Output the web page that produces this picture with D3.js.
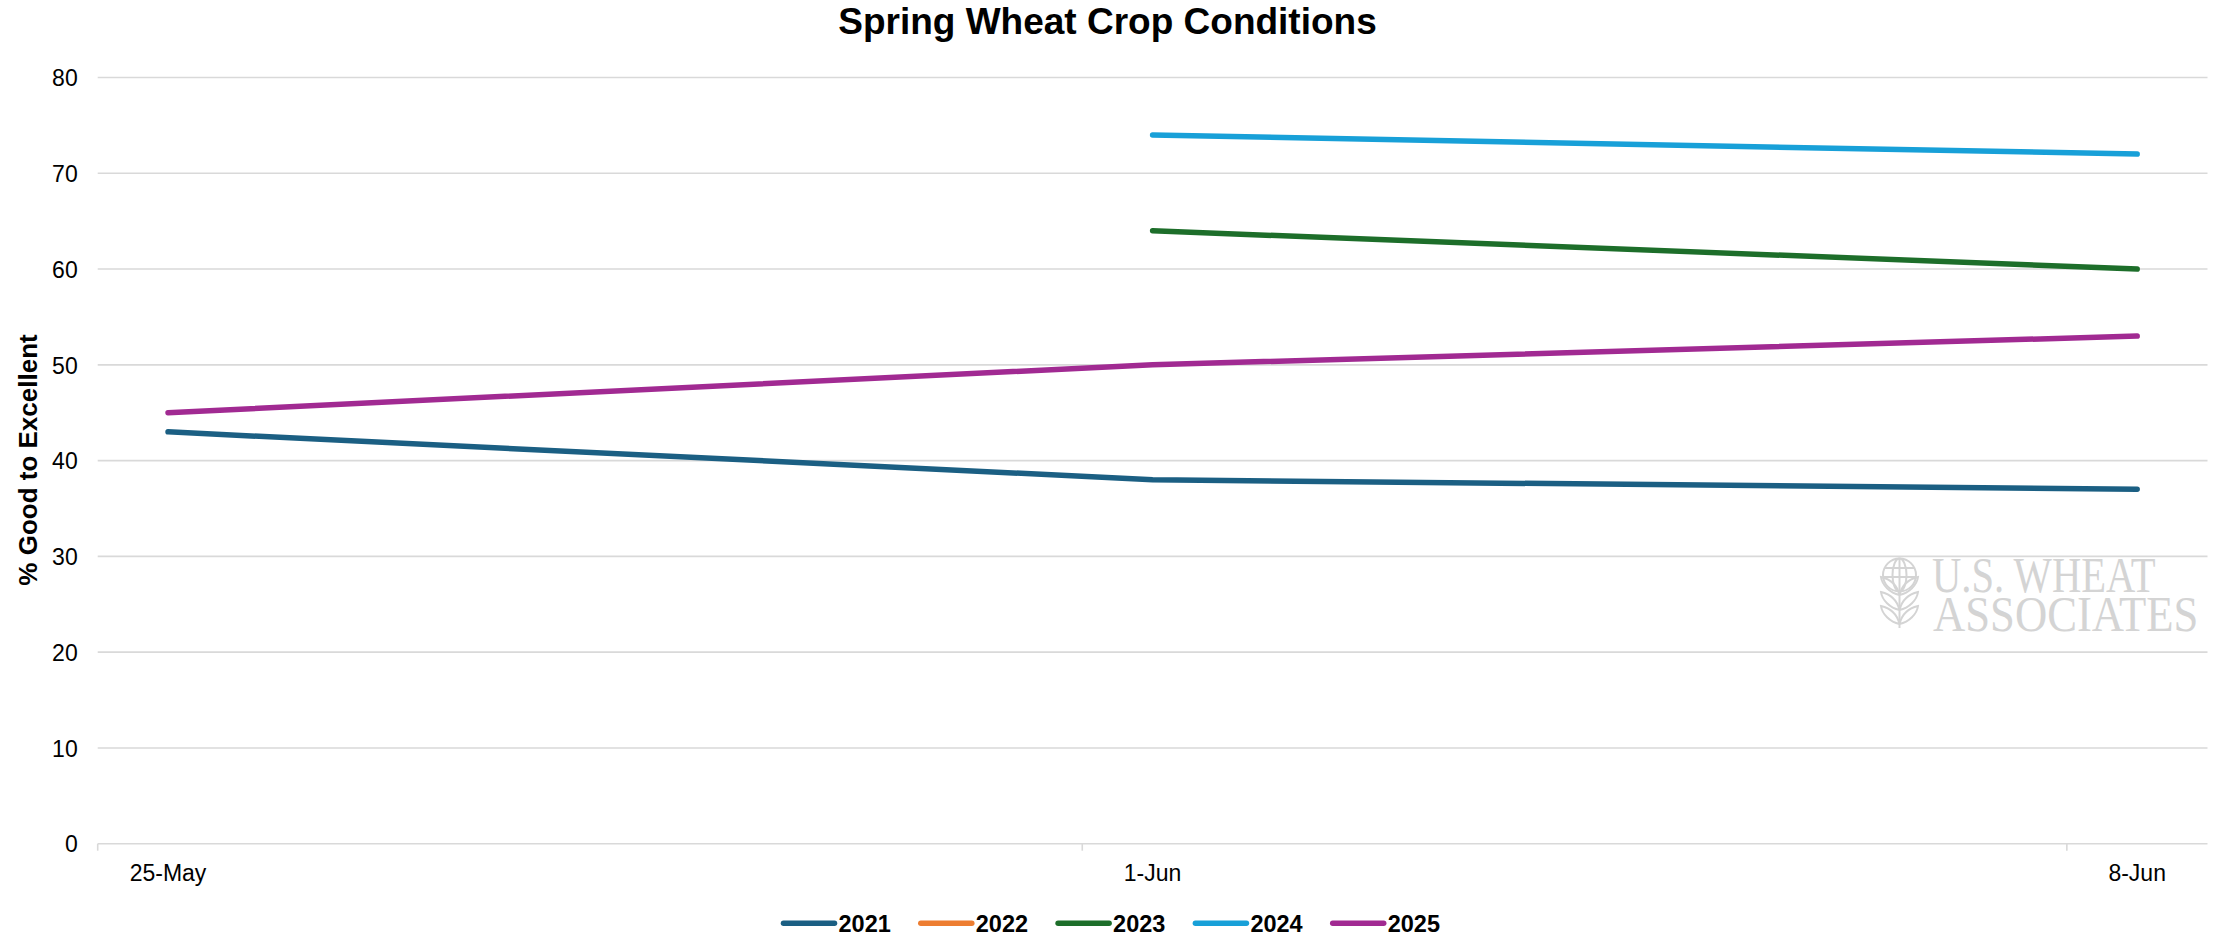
<!DOCTYPE html>
<html>
<head>
<meta charset="utf-8">
<script src="https://cdn.jsdelivr.net/npm/d3@7"></script>
<style>
  html, body { margin: 0; padding: 0; background: #fff; }
  svg { display: block; }
</style>
</head>
<body>
<svg id="chart" width="2221" height="937"></svg>
<script>
// ---- data ----
const title = "Spring Wheat Crop Conditions";
const yAxisTitle = "% Good to Excellent";
const categories = ["2025-05-25", "2025-06-01", "2025-06-08"];
const categoryLabels = ["25-May", "1-Jun", "8-Jun"];
const yTicks = [0, 10, 20, 30, 40, 50, 60, 70, 80];
const seriesNames = ["2021", "2022", "2023", "2024", "2025"];
const values2021 = [43, 38, 37];
const values2022 = [null, null, null];
const values2023 = [null, 64, 60];
const values2024 = [null, 74, 72];
const values2025 = [45, 50, 53];
const seriesColors = ["#1b5f83", "#ed7d31", "#1d6e2a", "#18a0d8", "#a12a92"];
const watermarkLines = ["U.S. WHEAT", "ASSOCIATES"];

const seriesValues = [values2021, values2022, values2023, values2024, values2025];
const parse = d3.utcParse("%Y-%m-%d");
const dates = categories.map(parse);
const HALF_DAY = 12 * 3600 * 1000;

const svg = d3.select("#chart");
const plotLeft = 97.7, plotRight = 2207.5, plotTop = 77.5, plotBottom = 843.7;

const x = d3.scaleUtc()
  .domain([new Date(+dates[0] - HALF_DAY), new Date(+dates[dates.length - 1] + HALF_DAY)])
  .range([plotLeft, plotRight]);
const y = d3.scaleLinear().domain([0, 80]).range([plotBottom, plotTop]);

// gridlines
svg.append("g")
  .selectAll("line")
  .data(yTicks)
  .join("line")
  .attr("x1", plotLeft).attr("x2", plotRight)
  .attr("y1", d => y(d)).attr("y2", d => y(d))
  .attr("stroke", "#d9d9d9").attr("stroke-width", 1.6);

// y axis labels
const yAxis = d3.axisLeft(y).tickValues(yTicks).tickSize(0).tickPadding(0);
const gy = svg.append("g").attr("transform", `translate(${plotLeft - 20},0)`).call(yAxis);
gy.select(".domain").remove();
gy.selectAll("text")
  .attr("font-family", "Liberation Sans, Arial, sans-serif")
  .attr("font-size", 23).attr("fill", "#000").attr("dy", "0.36em");

// x axis tick marks at category boundaries
const boundaries = dates.map(d => new Date(+d - HALF_DAY));
svg.append("g").selectAll("line")
  .data(boundaries).join("line")
  .attr("x1", d => x(d)).attr("x2", d => x(d))
  .attr("y1", plotBottom).attr("y2", plotBottom + 7)
  .attr("stroke", "#d9d9d9").attr("stroke-width", 1.6);

// x labels
svg.append("g").selectAll("text")
  .data(dates).join("text")
  .attr("x", d => x(d)).attr("y", 880.5)
  .attr("text-anchor", "middle")
  .attr("font-family", "Liberation Sans, Arial, sans-serif")
  .attr("font-size", 23).attr("fill", "#000")
  .text((d, i) => categoryLabels[i]);

// watermark (condensed serif wordmark)
const wm = svg.append("g").attr("fill", "#d4d4d4")
  .attr("font-family", "Liberation Serif, Times New Roman, serif")
  .attr("font-size", 50);
wm.append("text").attr("transform", "translate(1932,592) scale(0.812,1)")
  .text(watermarkLines[0]);
wm.append("text").attr("transform", "translate(1933,631) scale(0.893,1)")
  .text(watermarkLines[1]);
const logo = svg.append("g").attr("fill", "none").attr("stroke", "#d4d4d4").attr("stroke-width", 2);
logo.append("circle").attr("cx", 1899.5).attr("cy", 575).attr("r", 16.5);
logo.append("ellipse").attr("cx", 1899.5).attr("cy", 575).attr("rx", 7).attr("ry", 16.5);
logo.append("line").attr("x1", 1899.5).attr("x2", 1899.5).attr("y1", 558.5).attr("y2", 628);
logo.append("line").attr("x1", 1884).attr("x2", 1915).attr("y1", 568).attr("y2", 568);
logo.append("line").attr("x1", 1883).attr("x2", 1916).attr("y1", 577).attr("y2", 577);
[585, 600, 614].forEach(cy => {
  logo.append("path").attr("d", `M1899.5,${cy + 10} C1890,${cy + 8} 1882,${cy} 1881,${cy - 8} C1890,${cy - 6} 1897,${cy} 1899.5,${cy + 10}`);
  logo.append("path").attr("d", `M1899.5,${cy + 10} C1909,${cy + 8} 1917,${cy} 1918,${cy - 8} C1909,${cy - 6} 1902,${cy} 1899.5,${cy + 10}`);
});

// lines
const line = d3.line()
  .defined(d => d.v != null)
  .x(d => x(d.date)).y(d => y(d.v));
svg.append("g").selectAll("path")
  .data(seriesValues.map((vals, i) => ({ name: seriesNames[i], color: seriesColors[i], pts: vals.map((v, j) => ({ v, date: dates[j] })) })))
  .join("path")
  .attr("d", d => line(d.pts))
  .attr("fill", "none")
  .attr("stroke", d => d.color)
  .attr("stroke-width", 5.5)
  .attr("stroke-linecap", "round")
  .attr("stroke-linejoin", "round");

// title
svg.append("text").attr("x", 1107.5).attr("y", 34)
  .attr("text-anchor", "middle")
  .attr("font-family", "Liberation Sans, Arial, sans-serif")
  .attr("font-weight", "bold").attr("font-size", 37)
  .text(title);

// y axis title
svg.append("text")
  .attr("transform", `translate(37,460) rotate(-90)`)
  .attr("text-anchor", "middle")
  .attr("font-family", "Liberation Sans, Arial, sans-serif")
  .attr("font-weight", "bold").attr("font-size", 26)
  .text(yAxisTitle);

// legend
const legend = svg.append("g");
const items = legend.selectAll("g").data(seriesNames).join("g")
  .attr("transform", (d, i) => `translate(${783.5 + i * 137.3},923.3)`);
items.append("line").attr("x1", 0).attr("x2", 51)
  .attr("stroke", (d, i) => seriesColors[i]).attr("stroke-width", 5.5).attr("stroke-linecap", "round");
items.append("text").attr("x", 55).attr("y", 8.5)
  .attr("font-family", "Liberation Sans, Arial, sans-serif")
  .attr("font-weight", "bold").attr("font-size", 23.5)
  .text(d => d);
</script>
</body>
</html>
